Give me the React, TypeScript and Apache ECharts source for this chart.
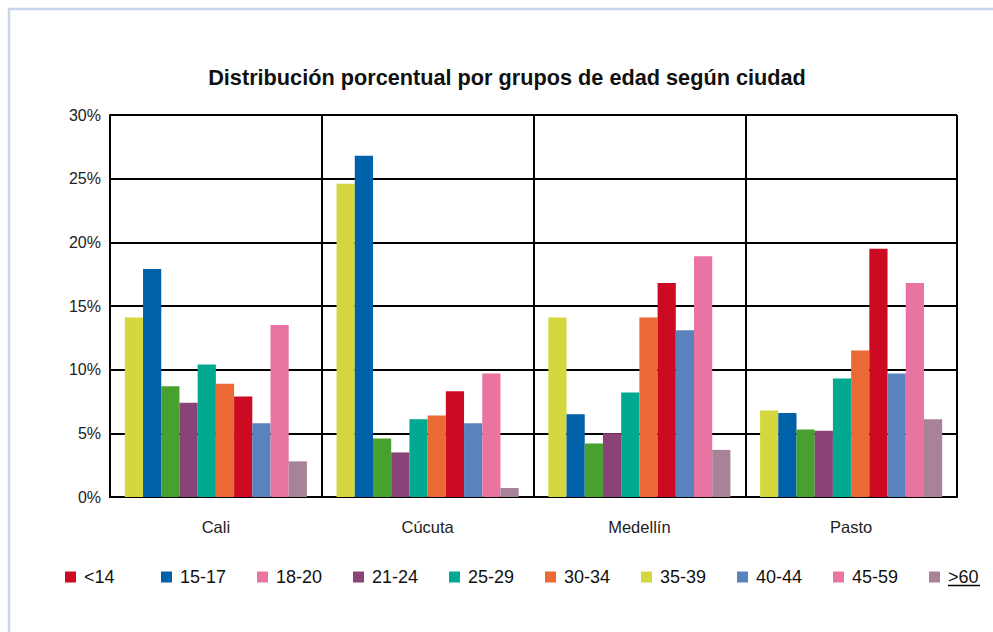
import React, { useEffect, useRef } from "react";
import * as echarts from "echarts";

const cities = ["Cali", "Cúcuta", "Medellín", "Pasto"];
const legendLabels = ["<14", "15-17", "18-20", "21-24", "25-29", "30-34", "35-39", "40-44", "45-59", ">60"];
const legendColors = ["#CC0A21", "#0061A8", "#E974A2", "#8A4376", "#00A98F", "#EA6935", "#D4D83E", "#5A82BD", "#E974A2", "#A88397"];

// bars in drawing order within each city
const barNames = ["35-39", "15-17", "18-20", "21-24", "25-29", "30-34", "<14", "40-44", "45-59", ">60"];
const barColors = ["#D4D83E", "#0061A8", "#48A02E", "#8A4376", "#00A98F", "#EA6935", "#CC0A21", "#5A82BD", "#E974A2", "#A88397"];

const v35_39 = [14.1, 24.6, 14.1, 6.8];
const v15_17 = [17.9, 26.8, 6.5, 6.6];
const v18_20 = [8.7, 4.6, 4.2, 5.3];
const v21_24 = [7.4, 3.5, 5.0, 5.2];
const v25_29 = [10.4, 6.1, 8.2, 9.3];
const v30_34 = [8.9, 6.4, 14.1, 11.5];
const vLt14 = [7.9, 8.3, 16.8, 19.5];
const v40_44 = [5.8, 5.8, 13.1, 9.7];
const v45_59 = [13.5, 9.7, 18.9, 16.8];
const vGt60 = [2.8, 0.7, 3.7, 6.1];

const barValues = [v35_39, v15_17, v18_20, v21_24, v25_29, v30_34, vLt14, v40_44, v45_59, vGt60];

const yTicks = { min: 0, max: 30, interval: 5 };

const FONT = "'Liberation Sans', Arial, sans-serif";

export default function App() {
  const ref = useRef<HTMLDivElement>(null);
  useEffect(() => {
    if (!ref.current) return;
    const chart = echarts.init(ref.current, null, { renderer: "svg" });
    chart.setOption({
      animation: false,
      backgroundColor: "#ffffff",
      title: {
        text: "Distribución porcentual por grupos de edad según ciudad",
        left: 502,
        top: 61,
        textAlign: "center",
        textStyle: {
          fontFamily: FONT,
          fontWeight: "bold",
          fontSize: 21.7,
          color: "#111",
        },
      },
      grid: { left: 110, right: 36, top: 115, bottom: 135 },
      legend: {
        left: 65,
        top: 567,
        padding: 0,
        width: 960,
        itemWidth: 11,
        itemHeight: 11,
        itemGap: 11,
        icon: "rect",
        selectedMode: false,
        textStyle: {
          fontFamily: FONT,
          fontSize: 18,
          color: "#111",
          width: 66,
          padding: [0, 0, 0, 3],
          lineHeight: 20,
        },
        data: legendLabels.map((n, i) => ({
          name: n,
          itemStyle: { color: legendColors[i] },
          textStyle: i === legendLabels.length - 1 ? { width: 36 } : undefined,
        })),
      },
      xAxis: {
        type: "category",
        data: cities,
        axisLine: { show: true, lineStyle: { color: "#000", width: 2 } },
        axisTick: { show: false },
        axisLabel: { fontFamily: FONT, fontSize: 16.5, color: "#222", margin: 21 },
        splitLine: { show: true, lineStyle: { color: "#000", width: 2 } },
      },
      yAxis: {
        type: "value",
        min: yTicks.min,
        max: yTicks.max,
        interval: yTicks.interval,
        axisLine: { show: true, lineStyle: { color: "#000", width: 2 } },
        axisTick: { show: false },
        axisLabel: { formatter: "{value}%", fontFamily: FONT, fontSize: 16, color: "#222", margin: 9 },
        splitLine: { show: true, lineStyle: { color: "#000", width: 2 } },
      },
      graphic: [
        { type: "line", shape: { x1: 9, y1: 8, x2: 9, y2: 632 }, style: { stroke: "#C9D5E8", lineWidth: 2.5 } },
        { type: "line", shape: { x1: 8, y1: 9, x2: 993, y2: 9 }, style: { stroke: "#C9D5E8", lineWidth: 2.5 } },
        { type: "line", shape: { x1: 948, y1: 585.5, x2: 980, y2: 585.5 }, style: { stroke: "#000", lineWidth: 1.5 } },
      ],
      series: barNames.map((n, i) => ({
        name: n,
        type: "bar",
        data: barValues[i],
        barGap: "0%",
        barCategoryGap: "14%",
        itemStyle: { color: barColors[i] },
      })),
    });
    return () => chart.dispose();
  }, []);
  return <div ref={ref} style={{ position: "fixed", left: 0, top: 0, width: 993, height: 632 }} />;
}
